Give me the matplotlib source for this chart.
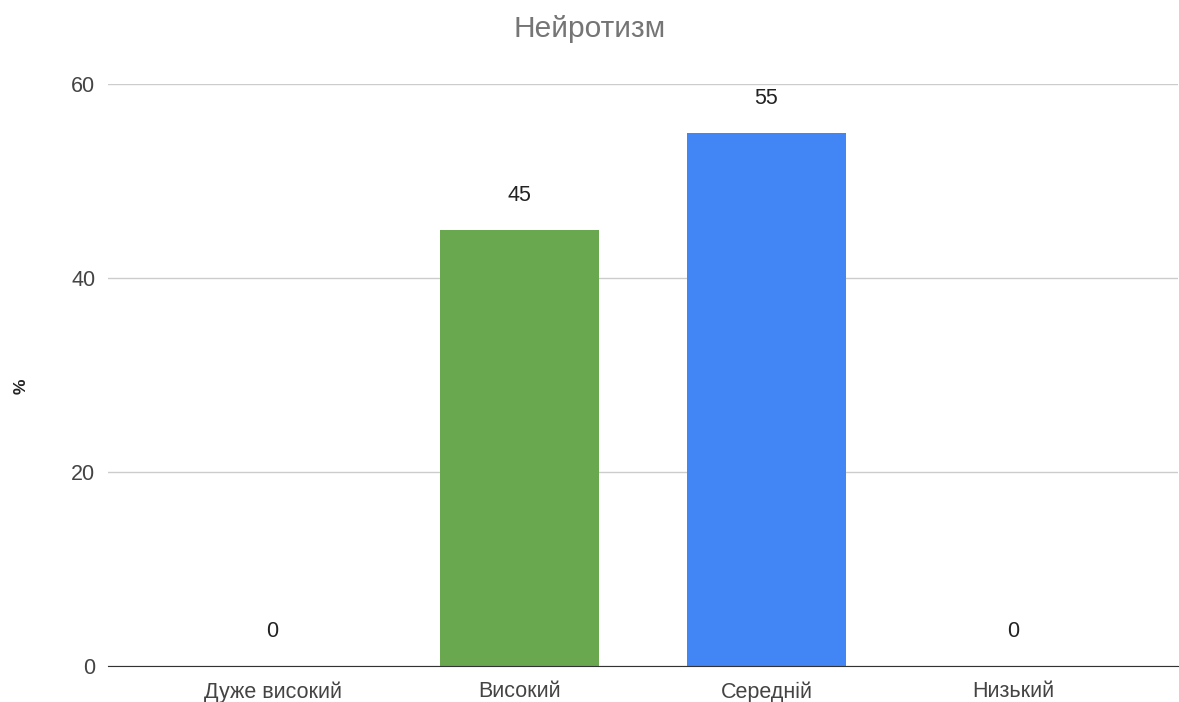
import matplotlib.pyplot as plt

plt.rcParams['font.family'] = ['Liberation Sans', 'DejaVu Sans']

# Chart data
categories = ["Дуже високий", "Високий", "Середній", "Низький"]
values = [0, 45, 55, 0]
colors = ["#6aa84f", "#6aa84f", "#4285f4", "#6aa84f"]
yticks = [0, 20, 40, 60]

fig = plt.figure(figsize=(11.79, 7.02), dpi=100)
ax = fig.add_axes([0.0916, 0.0513, 0.9075, 0.829])

x = range(len(categories))
ax.bar(x, values, width=0.647, color=colors, zorder=3)

for i, v in zip(x, values):
    ax.annotate(str(v), (i, v), xytext=(0, 24), textcoords="offset pixels",
                ha="center", va="bottom", fontsize=15.5, color="#222222")

ax.set_xlim(-0.667, 3.667)
ax.set_ylim(0, 60)
ax.set_yticks(yticks)
ax.set_xticks(list(x))
ax.set_xticklabels(categories)
ax.tick_params(axis="both", length=0, labelsize=15.5, labelcolor="#444444")
ax.tick_params(axis="x", pad=11)
ax.tick_params(axis="y", pad=9)

ax.grid(axis="y", color="#cccccc", linewidth=1, zorder=0)
for side in ["top", "right", "left"]:
    ax.spines[side].set_visible(False)
ax.spines["bottom"].set_color("#333333")
ax.spines["bottom"].set_zorder(4)

ax.set_ylabel("%", fontsize=12.5, fontweight="bold", color="#222222")
ax.yaxis.set_label_coords(-0.0745, 0.48)
fig.text(0.5, 0.958, "Нейротизм", ha="center", va="center", fontsize=21.5, color="#757575")

fig.savefig("out.png", dpi=100)
